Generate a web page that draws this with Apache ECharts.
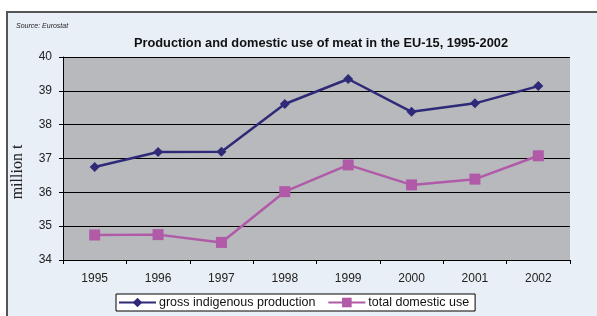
<!DOCTYPE html>
<html>
<head>
<meta charset="utf-8">
<script src="https://cdn.jsdelivr.net/npm/echarts@6/dist/echarts.min.js"></script>
<style>
  html, body { margin: 0; padding: 0; background: #fff; }
  #chart { width: 597px; height: 316px; }
</style>
</head>
<body>
<div id="chart"></div>
<script>
var years = ['1995', '1996', '1997', '1998', '1999', '2000', '2001', '2002']
var production = [36.75, 37.19, 37.2, 38.61, 39.35, 38.38, 38.63, 39.14]
var domesticUse = [34.74, 34.75, 34.52, 36.02, 36.81, 36.22, 36.39, 37.08]

var myChart = echarts.init(document.getElementById('chart'))
myChart.setOption({
  animation: false,
  graphic: [{
    type: 'rect',
    shape: { x: 7, y: 12, width: 600, height: 320 },
    style: { fill: '#e9eff7', stroke: '#555', lineWidth: 2 },
    z: -10
  }, {
    type: 'text',
    left: 16, top: 23,
    style: { text: 'Source: Eurostat', font: 'italic 7px Liberation Sans', fill: '#222' }
  }, {
    // y axis title, sits a bit below the plot's middle in the original
    type: 'text',
    x: 18, y: 172,
    rotation: Math.PI / 2,
    style: {
      text: 'million t',
      font: '16px Liberation Serif',
      fill: '#222',
      textAlign: 'center',
      textVerticalAlign: 'middle'
    }
  }],
  title: {
    text: 'Production and domestic use of meat in the EU-15, 1995-2002',
    left: 316, top: 32,
    textAlign: 'center',
    textStyle: { fontFamily: 'Liberation Sans', fontSize: 12.8, fontWeight: 'bold', color: '#111' }
  },
  legend: {
    top: 294, left: 116,
    backgroundColor: '#fff',
    borderColor: '#000',
    borderWidth: 1,
    borderRadius: 0,
    padding: [2, 6, 2, 2],
    itemGap: 12,
    itemWidth: 37,
    itemHeight: 12,
    textStyle: { fontFamily: 'Liberation Sans', fontSize: 12.5, color: '#111', padding: [0, 0, 0, -2] }
  },
  grid: {
    left: 63, right: 27, top: 57, bottom: 56,
    show: true,
    backgroundColor: '#b8b9bd',
    borderWidth: 0
  },
  xAxis: {
    type: 'category',
    data: years,
    boundaryGap: true,
    axisLine: { lineStyle: { color: '#000', width: 1 } },
    axisTick: { show: true, length: 4, lineStyle: { color: '#000' } },
    axisLabel: { fontFamily: 'Liberation Sans', fontSize: 12, color: '#222', margin: 13 }
  },
  yAxis: {
    type: 'value',
    min: 34, max: 40, interval: 1,
    axisLine: { show: true, lineStyle: { color: '#000' } },
    axisTick: { show: true, length: 4, lineStyle: { color: '#000' } },
    axisLabel: { fontFamily: 'Liberation Sans', fontSize: 12, color: '#222', margin: 11 },
    splitLine: { lineStyle: { color: '#000', width: 1 } }
  },
  series: [{
    name: 'gross indigenous production',
    type: 'line',
    data: production,
    symbol: 'diamond',
    symbolSize: 10,
    color: '#2e2a78',
    lineStyle: { width: 2.5, color: '#2e2a78' },
    itemStyle: { color: '#2e2a78' }
  }, {
    name: 'total domestic use',
    type: 'line',
    data: domesticUse,
    symbol: 'rect',
    symbolSize: 11,
    color: '#b05aa8',
    lineStyle: { width: 2.5, color: '#b05aa8' },
    itemStyle: { color: '#b05aa8' }
  }]
})
</script>
</body>
</html>
